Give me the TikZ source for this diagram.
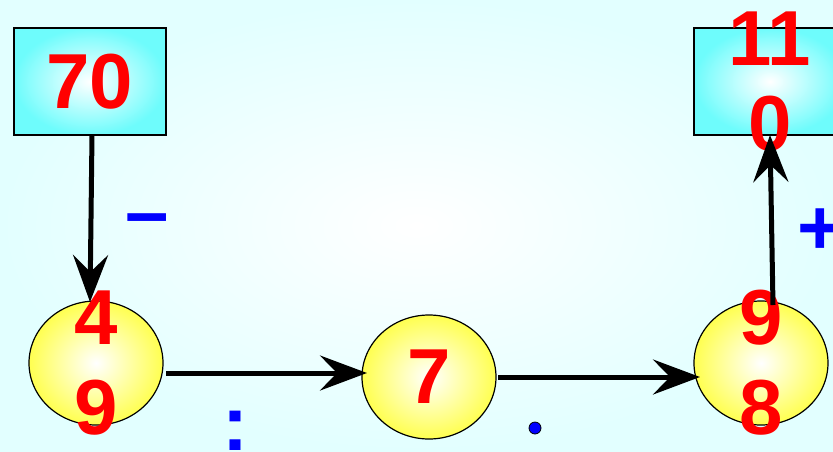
\documentclass[tikz,border=0pt]{standalone}
\usepackage{fontspec}
\setmainfont{Liberation Sans}
\usetikzlibrary{arrows.meta,shapes.geometric}
\definecolor{bgcyan}{HTML}{E2FFFF}
\definecolor{boxcyan}{HTML}{6EFCFC}
\definecolor{ballyellow}{HTML}{FFFF50}
\definecolor{numred}{HTML}{FF0000}
\definecolor{oppblue}{HTML}{0000FF}
\tikzset{
  numfont/.style={font=\bfseries\fontsize{78}{#1}\selectfont},
  numfont/.default=88,
  numtext/.style={text=numred, numfont=#1, align=center, inner sep=0pt},
  numtext/.default=88,
  numbox/.style={rectangle, draw=black, line width=1.5pt, inner color=white, outer color=boxcyan,
     minimum width=152pt, minimum height=107pt, inner sep=0pt},
  ball/.style={ellipse, draw=black, line width=1.2pt, inner color=white, outer color=ballyellow,
     minimum width=134pt, minimum height=124pt, inner sep=0pt},
  oplabel/.style={text=oppblue, numfont, inner sep=0pt},
  arr/.style={line width=5pt, -{Stealth[length=47pt, width=35pt, inset=17pt]}},
}
\begin{document}
\begin{tikzpicture}[x=1pt, y=-1pt]
  \useasboundingbox (0,0) rectangle (833,451);
  \shade[inner color=white, outer color=bgcyan] (0,0) rectangle (833,451);

  \node[numbox, label={[numtext]center:70}] (b70) at (90,81.5) {};
  \node[numbox, label={[numtext=85]center:{11\\0}}] (b110) at (770,81.5) {};
  \node[ball, label={[numtext=90]center:{4\\9}}] (c49) at (96,363) {};
  \node[ball, label={[numtext]center:7}] (c7) at (429,377) {};
  \node[ball, label={[numtext=90]center:{9\\8}}] (c98) at (761,363) {};

  \coordinate (a1s) at (92,135);
  \coordinate (a1e) at (90,302);
  \coordinate (a2s) at (166,373);
  \coordinate (a2e) at (367,373);
  \coordinate (a3s) at (498,377);
  \coordinate (a3e) at (700,377);
  \coordinate (a4s) at (773,305);
  \coordinate (a4e) at (770,135);

  \draw[arr] (a1s) -- (a1e);
  \draw[arr] (a2s) -- (a2e);
  \draw[arr] (a3s) -- (a3e);
  \draw[arr] (a4s) -- (a4e);

  \node[oplabel, anchor=base] (minus) at (147,238) {–};
  \node[oplabel, anchor=base west] (plus) at (797,254) {+};
  \node[oplabel, anchor=base] (colon) at (235,450) {:};
  \node[circle, draw=black, line width=0.8pt, fill=oppblue, minimum size=12pt, inner sep=0pt] (dot) at (535,428) {};
\end{tikzpicture}
\end{document}
